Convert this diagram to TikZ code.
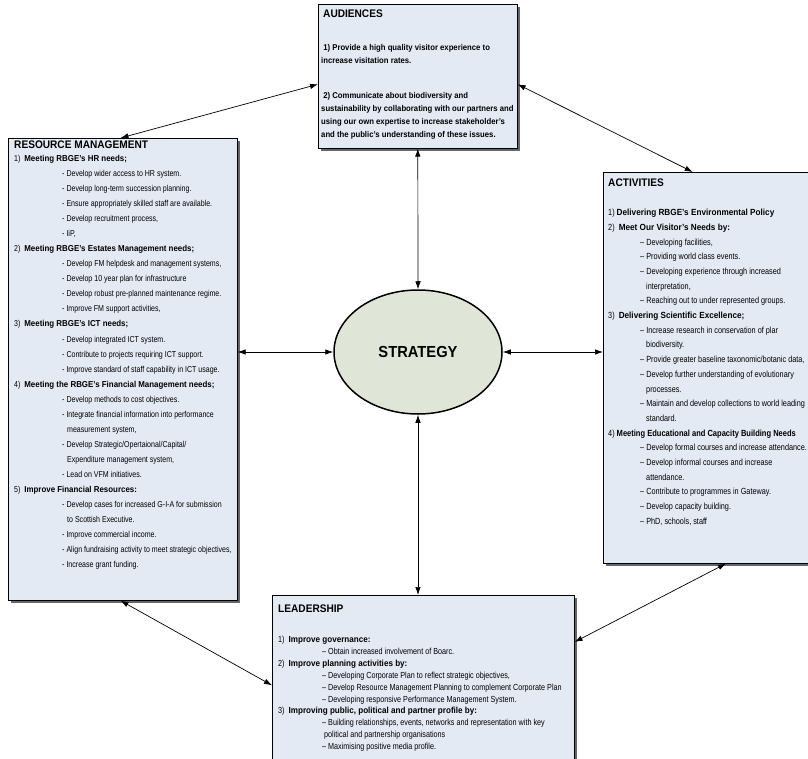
\documentclass[tikz,border=0pt]{standalone}
\usepackage{graphicx}
\usepackage{fontspec}
\setmainfont{Liberation Sans}[FakeStretch=0.82, BoldFeatures={FakeStretch=0.92}]
\usetikzlibrary{arrows.meta,shapes.geometric,shadows,calc}
\definecolor{boxfill}{HTML}{E4EAF4}
\definecolor{ellfill}{HTML}{DFE6D8}
\newcommand\dshA{\hspace*{48pt}- }
\newcommand\cntA{\hspace*{53pt}}
\newcommand\dshB{\hspace*{32pt}– }
\newcommand\cntB{\hspace*{38pt}}
\newcommand\dshC{\hspace*{44pt}– }
\newcommand\cntC{\hspace*{46pt}}
\begin{document}
\begin{tikzpicture}[x=1pt,y=-1pt,
  box/.style={draw=black, line width=0.6pt, fill=boxfill, anchor=north west, inner sep=0pt,
    drop shadow={shadow xshift=2.5pt, shadow yshift=-2.5pt, fill=black!60, opacity=1}},
  ttl/.style={anchor=north west, inner sep=0pt, font=\fontsize{11}{12}\selectfont\bfseries},
  body/.style={anchor=north west, inner sep=0pt, align=left},
  arr/.style={line width=0.7pt, {Latex[length=8pt,width=5.5pt]}-{Latex[length=8pt,width=5.5pt]}}]
\useasboundingbox (0,0) rectangle (808,759);
\clip (0,0) rectangle (808,759);

% boxes
\node[box, minimum width=199pt, minimum height=144pt] (aud) at (318,4) {};
\node[box, minimum width=229pt, minimum height=462pt] (rm) at (8,138) {};
\node[box, minimum width=215pt, minimum height=391pt] (act) at (603,172) {};
\node[box, minimum width=302pt, minimum height=180pt] (lead) at (272,595) {};
\node[ellipse, draw=black, line width=1.5pt, fill=ellfill, minimum width=168pt, minimum height=124pt,
  font=\fontsize{16}{18}\selectfont\bfseries] (strat) at (418,352) {STRATEGY};

% connectors
\draw[arr] ($(aud.north west)!0.555!(aud.south west)$) -- ($(rm.north west)!0.49!(rm.north east)$);
\draw[arr] ($(aud.north east)!0.555!(aud.south east)$) -- ($(act.north west)!0.416!(act.north east)$);
\draw[arr] (aud.south) -- (strat.north);
\draw[arr] (rm.east |- strat.west) -- (strat.west);
\draw[arr] (strat.east) -- (act.west |- strat.east);
\draw[arr] (strat.south) -- (lead.north -| strat.south);
\draw[arr] ($(rm.south west)!0.49!(rm.south east)$) -- ($(lead.north west)!0.5!(lead.south west)$);
\draw[arr] ($(act.south west)!0.57!(act.south east)$) -- ($(lead.north east)!0.26!(lead.south east)$);

% audiences
\node[ttl] (audT) at (323,10) {AUDIENCES};
\node[body, font=\fontsize{8.4}{13}\selectfont\bfseries] (audB) at (321,44) {%
\ 1) Provide a high quality visitor experience to\\
increase visitation rates.\\[22pt]
\ 2) Communicate about biodiversity and\\
sustainability by collaborating with our partners and\\
using our own expertise to increase stakeholder's\\
and the public's understanding of these issues.};

% resource management
\node[ttl] (rmT) at (14,141) {RESOURCE MANAGEMENT};
\node[body, font=\fontsize{8.6}{15.05}\selectfont] (rmB) at (14,155) {%
1)\ \ \textbf{Meeting RBGE's HR needs;}\\
\dshA Develop wider access to HR system.\\
\dshA Develop long-term succession planning.\\
\dshA Ensure appropriately skilled staff are available.\\
\dshA Develop recruitment process,\\
\dshA IiP,\\
2)\ \ \textbf{Meeting RBGE's Estates Management needs;}\\
\dshA Develop FM helpdesk and management systems,\\
\dshA Develop 10 year plan for infrastructure\\
\dshA Develop robust pre-planned maintenance regime.\\
\dshA Improve FM support activities,\\
3)\ \ \textbf{Meeting RBGE's ICT needs;}\\
\dshA Develop integrated ICT system.\\
\dshA Contribute to projects requiring ICT support.\\
\dshA Improve standard of staff capability in ICT usage.\\
4)\ \ \textbf{Meeting the RBGE's Financial Management needs;}\\
\dshA Develop methods to cost objectives.\\
\dshA Integrate financial information into performance\\
\cntA measurement system,\\
\dshA Develop Strategic/Opertaional/Capital/\\
\cntA Expenditure management system,\\
\dshA Lead on VFM initiatives.\\
5)\ \ \textbf{Improve Financial Resources:}\\
\dshA Develop cases for increased G-I-A for submission\\
\cntA to Scottish Executive.\\
\dshA Improve commercial income.\\
\dshA Align fundraising activity to meet strategic objectives,\\
\dshA Increase grant funding.};

% activities
\node[ttl] (actT) at (608,179) {ACTIVITIES};
\node[body, font=\fontsize{8.9}{14.7}\selectfont] (actB) at (608,209) {%
1) \textbf{Delivering RBGE's Environmental Policy}\\
2)\ \ \textbf{Meet Our Visitor's Needs by:}\\
\dshB Developing facilities,\\
\dshB Providing world class events.\\
\dshB Developing experience through increased\\
\cntB interpretation,\\
\dshB Reaching out to under represented groups.\\
3)\ \ \textbf{Delivering Scientific Excellence;}\\
\dshB Increase research in conservation of plar\\
\cntB biodiversity.\\
\dshB Provide greater baseline taxonomic/botanic data,\\
\dshB Develop further understanding of evolutionary\\
\cntB processes.\\
\dshB Maintain and develop collections to world leading\\
\cntB standard.\\
4)\ \scalebox{0.92}[1]{\textbf{Meeting Educational and Capacity Building Needs}}\\
\dshB Develop formal courses and increase attendance.\\
\dshB Develop informal courses and increase\\
\cntB attendance.\\
\dshB Contribute to programmes in Gateway.\\
\dshB Develop capacity building.\\
\dshB PhD, schools, staff};

% leadership
\node[ttl] (leadT) at (278,605) {LEADERSHIP};
\node[body, font=\fontsize{8.8}{11.9}\selectfont] (leadB) at (278,636) {%
1)\ \ \textbf{Improve governance:}\\
\dshC Obtain increased involvement of Boarc.\\
2)\ \ \textbf{Improve planning activities by:}\\
\dshC Developing Corporate Plan to reflect strategic objectives,\\
\dshC Develop Resource Management Planning to complement Corporate Plan\\
\dshC Developing responsive Performance Management System.\\
3)\ \ \textbf{Improving public, political and partner profile by:}\\
\dshC Building relationships, events, networks and representation with key\\
\cntC political and partnership organisations\\
\dshC Maximising positive media profile.};
\end{tikzpicture}
\end{document}
